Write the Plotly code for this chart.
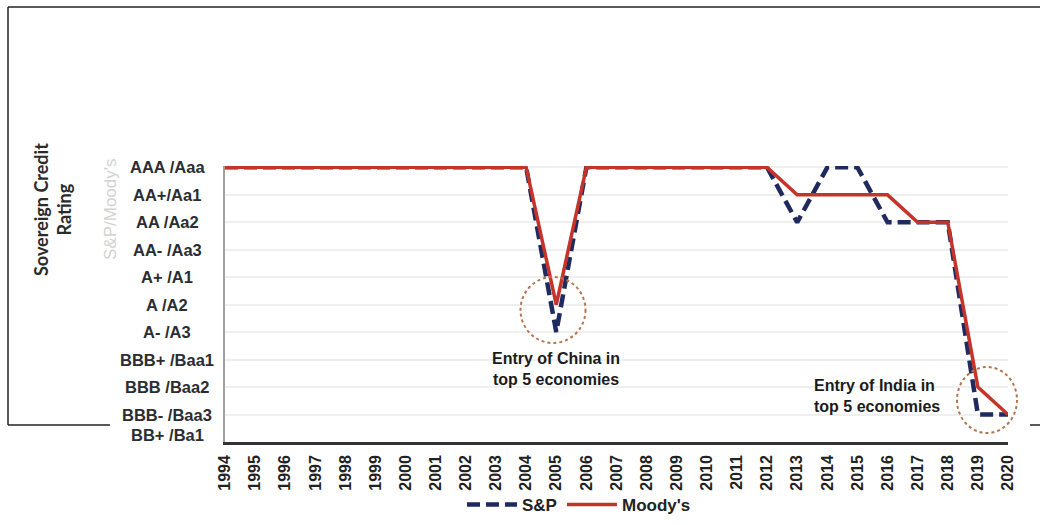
import plotly.graph_objects as go

# ---------------- data ----------------
years = list(range(1994, 2021))
rating_labels = ["AAA /Aaa", "AA+/Aa1", "AA /Aa2", "AA- /Aa3", "A+ /A1", "A /A2",
                 "A- /A3", "BBB+ /Baa1", "BBB /Baa2", "BBB- /Baa3", "BB+ /Ba1"]
# rating index: 0 = AAA/Aaa ... 10 = BB+/Ba1
sp_rating = [0, 0, 0, 0, 0, 0, 0, 0, 0, 0, 0,   # 1994-2004
             6,                                 # 2005
             0, 0, 0, 0, 0, 0, 0,               # 2006-2012
             2, 0, 0, 2, 2, 2, 9, 9]            # 2013-2020
moody_rating = [0, 0, 0, 0, 0, 0, 0, 0, 0, 0, 0,
                5,
                0, 0, 0, 0, 0, 0, 0,
                1, 1, 1, 1, 2, 2, 8, 9]
series_names = ["S&P", "Moody's"]

# ---------------- layout geometry ----------------
W, H = 1040, 525
ML, MR, MT, MB = 225, 32, 166, 83
PW, PH = W - ML - MR, H - MT - MB


def px(x):
    return (x - ML) / PW


def py(y):
    return (H - MB - y) / PH


BOLD = dict(family="Liberation Sans, Arial, sans-serif", weight="bold")

fig = go.Figure()
fig.add_trace(go.Scatter(x=years, y=sp_rating, mode="lines", name=series_names[0],
                         line=dict(color="#1f2a5e", width=4.5, dash="13px,6px")))
fig.add_trace(go.Scatter(x=years, y=moody_rating, mode="lines", name=series_names[1],
                         line=dict(color="#c4342b", width=3.5)))

annotations = []
# y tick labels, centred like the original
for i, lab in enumerate(rating_labels):
    annotations.append(dict(x=px(167), y=i, xref="paper", yref="y", text=lab,
                            showarrow=False, xanchor="center", yanchor="middle",
                            yshift=7 if i == len(rating_labels) - 1 else 0,
                            font=dict(size=16.5, color="#2a2d33", **BOLD)))
# axis title
annotations.append(dict(x=px(52), y=py(210), xref="paper", yref="paper",
                        text="Sovereign Credit<br>Rating", showarrow=False, textangle=-90,
                        xanchor="center", yanchor="middle",
                        font=dict(size=18, color="#2b2b2b", family="Lato, Open Sans, sans-serif",
                                  weight="bold")))
annotations.append(dict(x=px(110), y=py(209), xref="paper", yref="paper",
                        text="S&P/Moody's", showarrow=False, textangle=-90,
                        xanchor="center", yanchor="middle",
                        font=dict(size=17, color="#d2d2d2", family="Liberation Sans")))
# event notes
annotations.append(dict(x=2005, y=7.35, xref="x", yref="y",
                        text="Entry of China in<br>top 5 economies", showarrow=False,
                        xanchor="center", yanchor="middle", align="center",
                        font=dict(size=16, color="#1b1b1b", **BOLD)))
annotations.append(dict(x=2013.5, y=8.33, xref="x", yref="y",
                        text="Entry of India in<br>top 5 economies", showarrow=False,
                        xanchor="left", yanchor="middle", align="left",
                        font=dict(size=16, color="#1b1b1b", **BOLD)))


def circle(cx, cy, rx, ry):
    return dict(type="circle", xref="paper", yref="paper",
                x0=px(cx - rx), x1=px(cx + rx), y0=py(cy + ry), y1=py(cy - ry),
                line=dict(color="#b3744e", width=2, dash="dot"))


shapes = [
    # outer document frame
    dict(type="line", xref="paper", yref="paper", x0=px(8), x1=px(1040), y0=py(7), y1=py(7),
         line=dict(color="#222", width=1.5)),
    dict(type="line", xref="paper", yref="paper", x0=px(8), x1=px(8), y0=py(7), y1=py(425),
         line=dict(color="#222", width=1.5)),
    dict(type="line", xref="paper", yref="paper", x0=px(8), x1=px(110), y0=py(425), y1=py(425),
         line=dict(color="#222", width=1.5)),
    dict(type="line", xref="paper", yref="paper", x0=px(1030), x1=px(1040), y0=py(425), y1=py(425),
         line=dict(color="#222", width=1.5)),
    # dotted highlight circles
    circle(553, 310, 32.5, 33),
    circle(987, 400, 30, 33),
]

fig.update_layout(
    width=W, height=H,
    margin=dict(l=ML, r=MR, t=MT, b=MB, pad=0, autoexpand=False),
    paper_bgcolor="white", plot_bgcolor="white",
    showlegend=True,
    legend=dict(orientation="h", x=px(579), y=py(505), xanchor="center", yanchor="middle",
                font=dict(size=17, color="#222", **BOLD), bgcolor="rgba(0,0,0,0)",
                itemwidth=50),
    xaxis=dict(range=[1994, 2020], tickmode="array", tickvals=years,
               ticktext=[str(y) for y in years], tickangle=-90,
               tickfont=dict(size=16, color="#222", **BOLD),
               showgrid=False, zeroline=False, showline=True, linecolor="#333", linewidth=2.5,
               ticks="outside", ticklen=4, tickcolor="rgba(0,0,0,0)", automargin=False),
    yaxis=dict(range=[10, -0.05], tickmode="array", tickvals=list(range(11)),
               showticklabels=False, showgrid=True, gridcolor="#efefef", gridwidth=1.5,
               zeroline=False, showline=True, linecolor="#a0a0a0", linewidth=1.5, ticks="",
               automargin=False),
    annotations=annotations,
    shapes=shapes,
)

fig.write_html("out.html")
